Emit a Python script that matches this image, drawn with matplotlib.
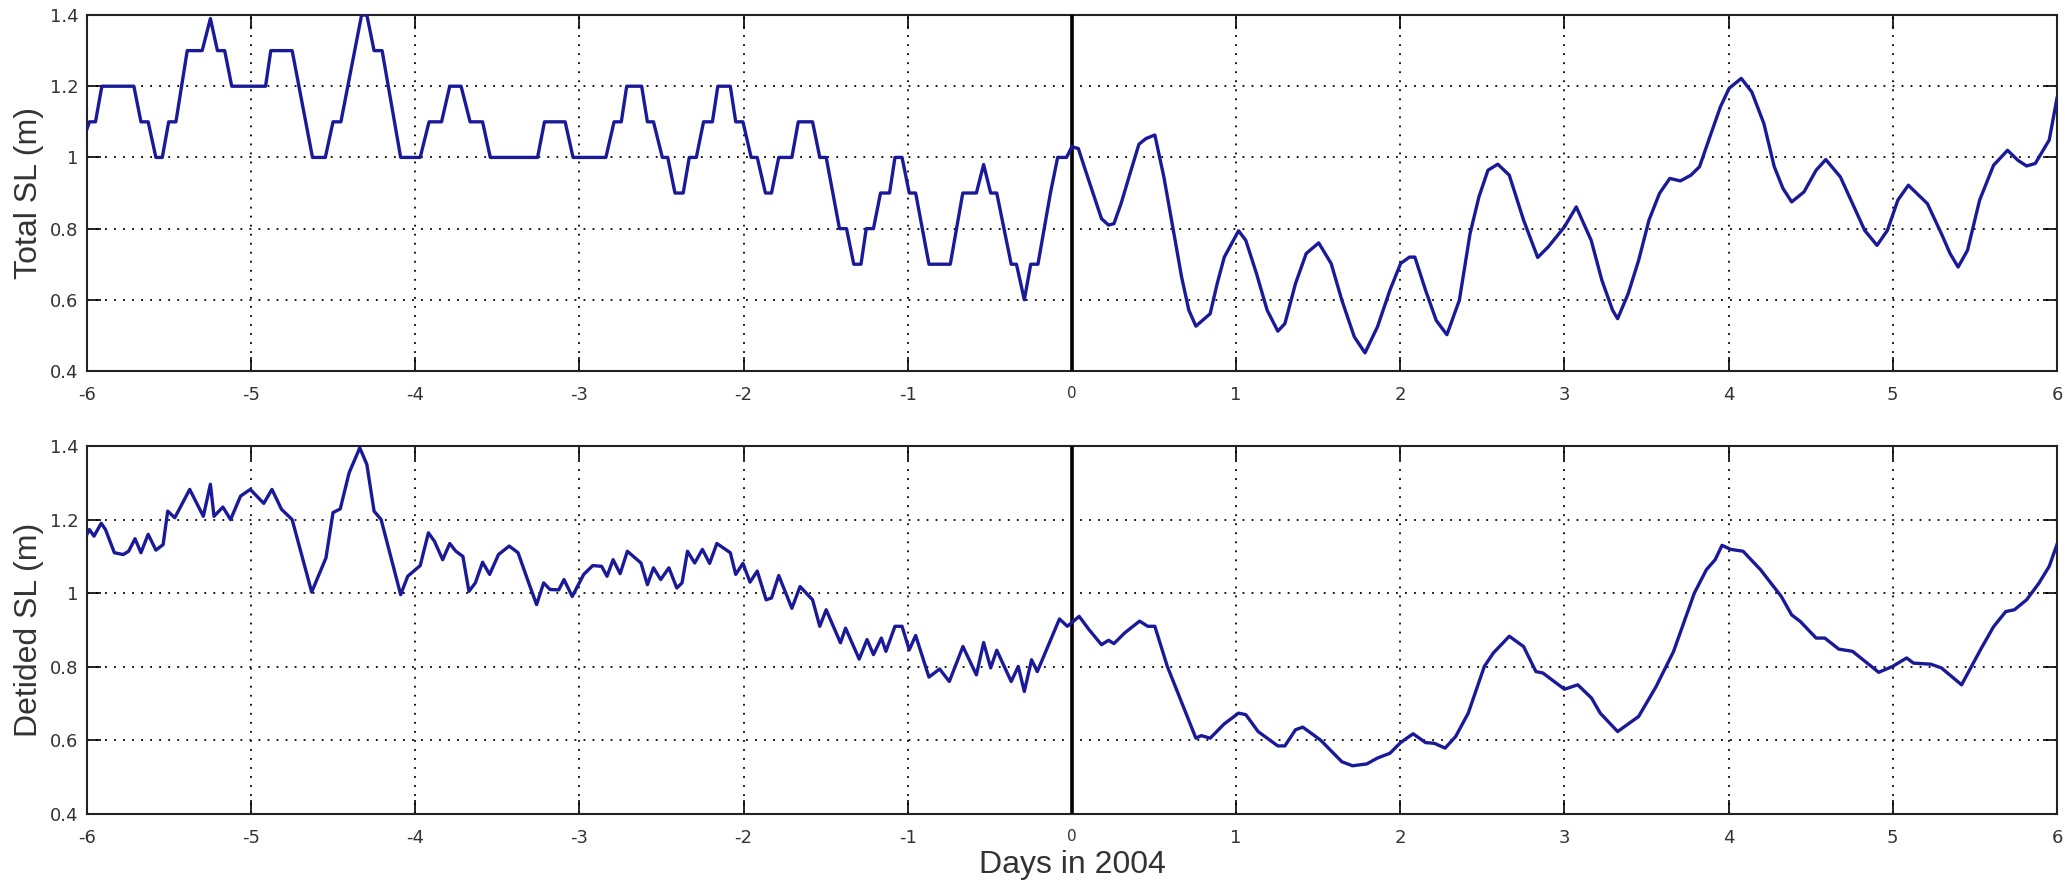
import matplotlib
matplotlib.use("Agg")
import matplotlib.pyplot as plt

plt.rcParams['axes.unicode_minus'] = False

# observed total sea level (0.1 m resolution), days before the event
obs_days = [-6.000, -5.985, -5.948, -5.909, -5.714, -5.671, -5.627, -5.580, -5.541, -5.502,
            -5.458, -5.389, -5.298, -5.248, -5.205, -5.161, -5.118, -4.912, -4.880, -4.750,
            -4.626, -4.548, -4.501, -4.453, -4.327, -4.295, -4.251, -4.202, -4.089, -3.970,
            -3.916, -3.840, -3.790, -3.721, -3.666, -3.590, -3.543, -3.255, -3.213, -3.087,
            -3.039, -2.839, -2.789, -2.745, -2.712, -2.621, -2.586, -2.549, -2.495, -2.462,
            -2.418, -2.368, -2.331, -2.288, -2.244, -2.190, -2.157, -2.081, -2.048, -2.004,
            -1.954, -1.917, -1.867, -1.830, -1.786, -1.706, -1.667, -1.580, -1.536, -1.497,
            -1.416, -1.373, -1.329, -1.285, -1.253, -1.209, -1.166, -1.111, -1.078, -1.035,
            -0.991, -0.952, -0.871, -0.741, -0.665, -0.582, -0.538, -0.495, -0.458, -0.370,
            -0.338, -0.290, -0.251, -0.207, -0.131, -0.087, -0.033, 0.000]
obs_level = [1.08, 1.1, 1.1, 1.2, 1.2, 1.1, 1.1, 1.0, 1.0, 1.1,
             1.1, 1.3, 1.3, 1.39, 1.3, 1.3, 1.2, 1.2, 1.3, 1.3,
             1.0, 1.0, 1.1, 1.1, 1.4, 1.4, 1.3, 1.3, 1.0, 1.0,
             1.1, 1.1, 1.2, 1.2, 1.1, 1.1, 1.0, 1.0, 1.1, 1.1,
             1.0, 1.0, 1.1, 1.1, 1.2, 1.2, 1.1, 1.1, 1.0, 1.0,
             0.9, 0.9, 1.0, 1.0, 1.1, 1.1, 1.2, 1.2, 1.1, 1.1,
             1.0, 1.0, 0.9, 0.9, 1.0, 1.0, 1.1, 1.1, 1.0, 1.0,
             0.8, 0.8, 0.7, 0.7, 0.8, 0.8, 0.9, 0.9, 1.0, 1.0,
             0.9, 0.9, 0.7, 0.7, 0.9, 0.9, 0.98, 0.9, 0.9, 0.7,
             0.7, 0.6, 0.7, 0.7, 0.9, 1.0, 1.0, 1.03]

# total sea level after the event
post_days = [0.000, 0.039, 0.082, 0.136, 0.180, 0.223, 0.256, 0.299, 0.354, 0.408,
             0.451, 0.505, 0.560, 0.614, 0.668, 0.712, 0.755, 0.842, 0.885, 0.928,
             1.015, 1.059, 1.124, 1.189, 1.254, 1.297, 1.362, 1.427, 1.503, 1.579,
             1.644, 1.720, 1.785, 1.861, 1.937, 2.002, 2.056, 2.089, 2.154, 2.219,
             2.284, 2.360, 2.425, 2.479, 2.534, 2.594, 2.664, 2.751, 2.837, 2.902,
             3.000, 3.072, 3.163, 3.228, 3.293, 3.324, 3.388, 3.452, 3.515, 3.579,
             3.642, 3.706, 3.770, 3.823, 3.886, 3.950, 4.003, 4.077, 4.141, 4.215,
             4.278, 4.331, 4.384, 4.459, 4.533, 4.592, 4.681, 4.755, 4.829, 4.904,
             4.967, 5.031, 5.095, 5.211, 5.296, 5.349, 5.398, 5.455, 5.529, 5.614,
             5.699, 5.762, 5.815, 5.868, 5.953, 6.000]
post_level = [1.03, 1.025, 0.964, 0.889, 0.828, 0.81, 0.814, 0.87, 0.955, 1.037,
              1.053, 1.063, 0.945, 0.805, 0.664, 0.571, 0.526, 0.561, 0.646, 0.72,
              0.794, 0.767, 0.674, 0.571, 0.512, 0.533, 0.646, 0.73, 0.76, 0.702,
              0.599, 0.496, 0.451, 0.524, 0.627, 0.702, 0.72, 0.72, 0.627, 0.542,
              0.502, 0.599, 0.786, 0.889, 0.964, 0.981, 0.95, 0.824, 0.719, 0.749,
              0.805, 0.861, 0.767, 0.655, 0.571, 0.547, 0.617, 0.711, 0.824, 0.899,
              0.941, 0.934, 0.95, 0.974, 1.058, 1.142, 1.194, 1.222, 1.184, 1.095,
              0.974, 0.913, 0.875, 0.903, 0.964, 0.994, 0.945, 0.87, 0.795, 0.753,
              0.795, 0.88, 0.922, 0.87, 0.786, 0.73, 0.692, 0.739, 0.88, 0.978,
              1.02, 0.992, 0.976, 0.983, 1.049, 1.166]

# detided sea level
det_days = [-6.000, -5.985, -5.957, -5.913, -5.887, -5.833, -5.779, -5.746, -5.707, -5.671,
            -5.627, -5.580, -5.536, -5.508, -5.465, -5.374, -5.291, -5.248, -5.226, -5.172,
            -5.125, -5.064, -5.005, -4.923, -4.873, -4.815, -4.750, -4.631, -4.544, -4.501,
            -4.457, -4.403, -4.338, -4.295, -4.251, -4.208, -4.089, -4.046, -3.970, -3.920,
            -3.883, -3.833, -3.790, -3.753, -3.710, -3.673, -3.634, -3.590, -3.547, -3.493,
            -3.428, -3.374, -3.309, -3.261, -3.218, -3.179, -3.126, -3.094, -3.044, -2.974,
            -2.919, -2.865, -2.832, -2.795, -2.752, -2.708, -2.625, -2.586, -2.549, -2.505,
            -2.455, -2.407, -2.375, -2.342, -2.298, -2.251, -2.207, -2.163, -2.081, -2.048,
            -2.004, -1.961, -1.917, -1.863, -1.830, -1.786, -1.706, -1.656, -1.580, -1.536,
            -1.497, -1.410, -1.379, -1.296, -1.248, -1.209, -1.161, -1.133, -1.078, -1.035,
            -0.991, -0.952, -0.871, -0.806, -0.747, -0.664, -0.582, -0.538, -0.495, -0.458,
            -0.370, -0.327, -0.290, -0.246, -0.211, -0.076, -0.028, 0.044, 0.104, 0.180,
            0.223, 0.256, 0.321, 0.412, 0.462, 0.505, 0.581, 0.755, 0.788, 0.842,
            0.928, 1.015, 1.059, 1.134, 1.254, 1.297, 1.362, 1.406, 1.514, 1.644,
            1.709, 1.796, 1.861, 1.937, 2.002, 2.078, 2.154, 2.208, 2.273, 2.338,
            2.414, 2.512, 2.566, 2.664, 2.751, 2.826, 2.869, 3.000, 3.081, 3.165,
            3.218, 3.324, 3.452, 3.558, 3.664, 3.748, 3.791, 3.865, 3.918, 3.960,
            4.013, 4.088, 4.194, 4.321, 4.384, 4.437, 4.533, 4.586, 4.671, 4.755,
            4.914, 4.999, 5.084, 5.126, 5.232, 5.296, 5.419, 5.540, 5.614, 5.688,
            5.741, 5.815, 5.890, 5.953, 6.000]
det_level = [1.16, 1.173, 1.155, 1.19, 1.173, 1.11, 1.105, 1.114, 1.148, 1.11,
             1.16, 1.117, 1.132, 1.223, 1.205, 1.282, 1.209, 1.296, 1.209, 1.234,
             1.2, 1.264, 1.282, 1.244, 1.282, 1.228, 1.2, 1.003, 1.096, 1.219,
             1.229, 1.327, 1.395, 1.35, 1.223, 1.2, 0.996, 1.046, 1.075, 1.164,
             1.141, 1.091, 1.135, 1.114, 1.1, 1.005, 1.028, 1.084, 1.051, 1.105,
             1.128, 1.11, 1.028, 0.969, 1.028, 1.01, 1.009, 1.037, 0.991, 1.051,
             1.075, 1.073, 1.046, 1.091, 1.053, 1.114, 1.082, 1.023, 1.069, 1.037,
             1.069, 1.014, 1.028, 1.114, 1.082, 1.119, 1.081, 1.135, 1.11, 1.051,
             1.081, 1.03, 1.06, 0.982, 0.987, 1.048, 0.959, 1.018, 0.982, 0.91,
             0.955, 0.865, 0.905, 0.821, 0.874, 0.833, 0.878, 0.842, 0.91, 0.91,
             0.846, 0.885, 0.772, 0.794, 0.76, 0.855, 0.778, 0.866, 0.797, 0.845,
             0.76, 0.801, 0.733, 0.819, 0.787, 0.93, 0.91, 0.937, 0.901, 0.86,
             0.872, 0.863, 0.892, 0.924, 0.91, 0.91, 0.801, 0.606, 0.613, 0.606,
             0.645, 0.674, 0.67, 0.624, 0.585, 0.585, 0.629, 0.636, 0.601, 0.542,
             0.531, 0.536, 0.552, 0.565, 0.594, 0.618, 0.594, 0.592, 0.579, 0.611,
             0.674, 0.801, 0.837, 0.883, 0.855, 0.787, 0.783, 0.739, 0.751, 0.715,
             0.674, 0.624, 0.665, 0.746, 0.841, 0.946, 1.0, 1.064, 1.091, 1.13,
             1.119, 1.114, 1.064, 0.991, 0.941, 0.923, 0.878, 0.878, 0.848, 0.842,
             0.785, 0.801, 0.824, 0.81, 0.807, 0.797, 0.751, 0.851, 0.909, 0.95,
             0.955, 0.982, 1.027, 1.073, 1.132]

x_ticks = list(range(-6, 7))
y_ticks = [0.4, 0.6, 0.8, 1.0, 1.2, 1.4]
y_tick_labels = ['0.4', '0.6', '0.8', '1', '1.2', '1.4']

line_color = '#1a1a98'
text_color = '#333333'

fig = plt.figure(figsize=(20.65, 8.84), dpi=100)
ax1 = fig.add_axes([0.0421, 0.5803, 0.954, 0.4027])
ax2 = fig.add_axes([0.0421, 0.0792, 0.954, 0.4163])


def style(ax, ylabel):
    ax.set_xlim(-6, 6)
    ax.set_ylim(0.4, 1.4)
    ax.set_xticks(x_ticks)
    ax.set_xticklabels([str(t) for t in x_ticks])
    ax.set_yticks(y_ticks)
    ax.set_yticklabels(y_tick_labels)
    ax.grid(True, color='black', linestyle=(0, (1, 4)), linewidth=1.3)
    ax.set_axisbelow(True)
    ax.tick_params(direction='in', top=True, right=True, length=10, width=1.2,
                   labelsize=13, labelcolor=text_color)
    ax.tick_params(axis='x', pad=11)
    ax.tick_params(axis='y', pad=6)
    for lbl in ax.get_xticklabels() + ax.get_yticklabels():
        lbl.set_family('DejaVu Sans')
    # the zero label is drawn smaller
    ax.get_xticklabels()[6].set_fontsize(11)
    for sp in ax.spines.values():
        sp.set_linewidth(1.5)
        sp.set_color('#222222')
    ax.axvline(0, color='black', linewidth=2.6, zorder=3)
    ax.set_ylabel(ylabel, fontsize=23, family='Liberation Sans', color=text_color,
                  labelpad=4)


style(ax1, 'Total SL (m)')
ax1.plot(obs_days, obs_level, color=line_color, linewidth=2.4, zorder=4)
ax1.plot(post_days, post_level, color=line_color, linewidth=2.4, zorder=4)

style(ax2, 'Detided SL (m)')
ax2.plot(det_days, det_level, color=line_color, linewidth=2.4, zorder=4)
ax2.set_xlabel('Days in 2004', fontsize=23, family='Liberation Sans', color=text_color,
               labelpad=2)

fig.savefig('out.png', dpi=100)
